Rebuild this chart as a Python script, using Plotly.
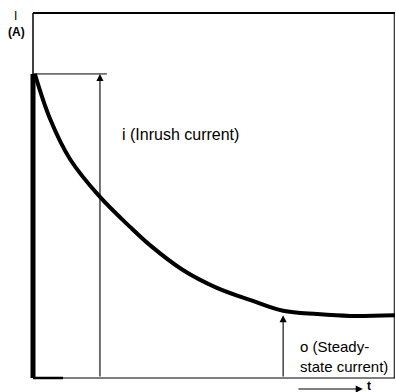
import plotly.graph_objects as go

# Current decay after switch-on (arbitrary units)
t_vals = [0.05, 0.47, 1.02, 1.85, 2.68, 3.23, 4.14, 5.08, 5.99, 6.91, 7.85, 8.76, 10.0]
i_vals = [8.33, 7.10, 6.00, 4.96, 4.14, 3.64, 2.96, 2.47, 2.14, 1.84, 1.75, 1.70, 1.72]

peak_current = 8.33
inrush_t = 1.85
steady_t = 6.91
steady_current = 1.80

FONT = "Liberation Sans, Arial, sans-serif"

fig = go.Figure()

# rising edge at t = 0
fig.add_trace(go.Scatter(x=[0.0, 0.0], y=[0.0, peak_current], mode="lines",
                         line=dict(color="black", width=5), hoverinfo="skip"))
# decaying current
fig.add_trace(go.Scatter(x=t_vals, y=i_vals, mode="lines",
                         line=dict(color="black", width=4, shape="spline", smoothing=1.0),
                         hoverinfo="skip"))

shapes = [
    # frame
    dict(type="line", x0=0, x1=10.0, y0=10, y1=10, line=dict(color="black", width=2)),
    dict(type="line", x0=9.98, x1=9.98, y0=0, y1=10, line=dict(color="black", width=1)),
    dict(type="line", x0=0, x1=10.0, y0=0, y1=0, line=dict(color="black", width=1.2)),
    dict(type="line", x0=0, x1=0.83, y0=0, y1=0, line=dict(color="black", width=2.5)),
    dict(type="line", x0=0, x1=0, y0=peak_current, y1=10, line=dict(color="black", width=1.5)),
    # peak level marker
    dict(type="line", x0=0, x1=2.04, y0=peak_current, y1=peak_current,
         line=dict(color="black", width=1)),
]

annotations = [
    # inrush arrow
    dict(x=inrush_t, y=peak_current, ax=inrush_t, ay=0, xref="x", yref="y",
         axref="x", ayref="y", text="", showarrow=True, arrowhead=2,
         arrowsize=1.3, arrowwidth=1.1, arrowcolor="black"),
    # steady-state arrow
    dict(x=steady_t, y=steady_current - 0.08, ax=steady_t, ay=0, xref="x", yref="y",
         axref="x", ayref="y", text="", showarrow=True, arrowhead=2,
         arrowsize=1.3, arrowwidth=1.1, arrowcolor="black"),
    dict(x=2.40, y=6.66, xref="x", yref="y", text="i (Inrush current)",
         showarrow=False, xanchor="left", yanchor="middle",
         font=dict(family=FONT, size=16, color="black")),
    dict(x=7.32, y=0.59, xref="x", yref="y", text="o (Steady-<br>state current)",
         showarrow=False, xanchor="left", yanchor="middle", align="left",
         font=dict(family=FONT, size=15, color="black")),
    # axis labels
    dict(x=-0.033, y=0.985, xref="paper", yref="paper", text="I",
         showarrow=False, xanchor="center", yanchor="middle",
         font=dict(family=FONT, size=12, color="black")),
    dict(x=-0.030, y=0.941, xref="paper", yref="paper", text="<b>(A)</b>",
         showarrow=False, xanchor="center", yanchor="middle",
         font=dict(family=FONT, size=12, color="black")),
    # time arrow
    dict(x=0.910, y=-0.019, xref="paper", yref="paper", ax=-66, ay=0,
         text="", showarrow=True, arrowhead=2, arrowsize=1.3, arrowwidth=1.1,
         arrowcolor="black"),
    dict(x=0.927, y=-0.010, xref="paper", yref="paper", text="<b>t</b>",
         showarrow=False, xanchor="center", yanchor="middle",
         font=dict(family=FONT, size=12, color="black")),
]

fig.update_layout(
    width=396, height=392,
    margin=dict(l=28, r=0, t=10, b=10),
    paper_bgcolor="white", plot_bgcolor="white",
    showlegend=False,
    shapes=shapes,
    annotations=annotations,
    xaxis=dict(range=[-0.138, 10.028], visible=False, fixedrange=True),
    yaxis=dict(range=[-0.11, 10.082], visible=False, fixedrange=True),
)

fig.write_html("out.html")
